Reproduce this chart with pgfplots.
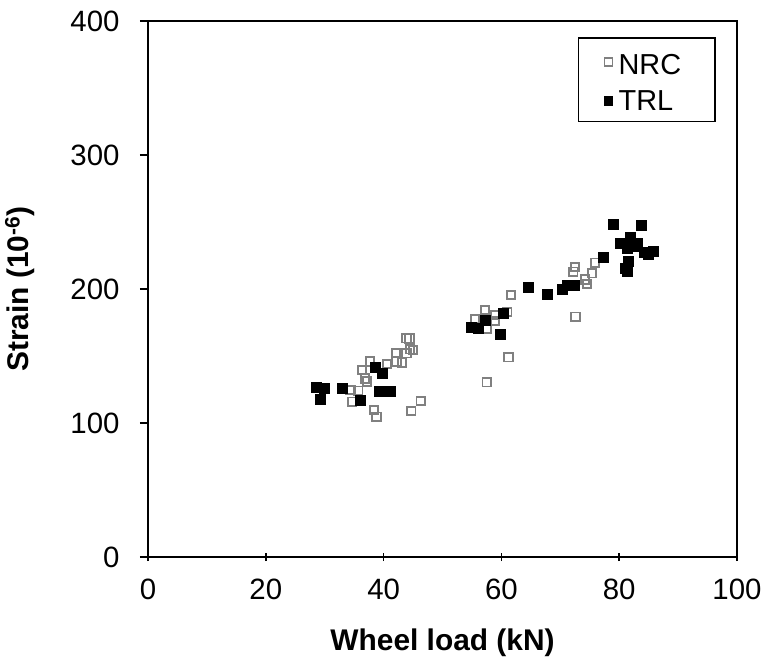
\documentclass[border=0pt]{standalone}
\usepackage{pgfplots}
\pgfplotsset{compat=1.18}
\usepackage{fontspec}
\setmainfont{Liberation Sans}
\definecolor{nrcgray}{RGB}{128,128,128}
\begin{document}
\begin{tikzpicture}
\path[use as bounding box] (-148bp,-107bp) rectangle (615bp,557bp);
\begin{axis}[
  at={(0,0)}, anchor=south west,
  scale only axis, width=589bp, height=536bp,
  xmin=0, xmax=100, ymin=0, ymax=400,
  xtick={0,20,...,100}, ytick={0,100,...,400},
  /pgf/number format/assume math mode=true,
  axis line style={line width=1.6bp},
  every tick/.style={black, line width=1.6bp},
  major tick length=8bp,
  xtick align=center, ytick align=outside,
  xtick pos=bottom, ytick pos=left,
  tick label style={font=\fontsize{29.5}{32}\selectfont},
  xticklabel style={yshift=-14bp},
  yticklabel style={xshift=-17bp},
  xlabel={\textbf{Wheel load (kN)}},
  ylabel={\textbf{Strain (10\textsuperscript{-6})}},
  label style={font=\fontsize{30}{34}\selectfont},
  xlabel style={at={(axis description cs:0.5,0)}, anchor=center, yshift=-86bp},
  ylabel style={at={(axis description cs:0,0.5)}, anchor=center, yshift=128bp},
  legend style={at={(1,1)}, anchor=north east, xshift=-21bp, yshift=-16bp,
     draw=black, line width=1.6bp, font=\fontsize{29}{34}\selectfont,
     inner xsep=26bp, inner ysep=8bp, row sep=10bp},
  legend cell align=left,
  legend image post style={mark size=4bp, line width=1.4bp},
]
\addplot[only marks, mark=square, mark size=4.2bp, draw=nrcgray, line width=1.9bp] coordinates {
(34.4,124.6) (34.6,115.9) (35.7,124.1) (36.3,139.6) (36.8,133.3) (37.2,131)
(37.7,145.8) (38.4,109.7) (38.8,104.7) (40.6,144) (42.1,152) (42.2,145.8)
(43.1,145) (43.9,163.2) (44.4,163) (44.5,155) (45.0,154.5) (43.9,152)
(44.7,109) (46.3,116.4) (55.5,177.6) (57.2,184.3) (57.5,170.6) (58.9,180.6)
(58.9,176) (61.0,183) (61.6,195.5) (61.2,149) (57.5,130.4) (72.2,212.9)
(72.5,216.6) (72.6,179.3) (74.2,207.2) (74.5,203.7) (75.4,211.7) (75.9,219.6)
};
\addlegendentry{\hspace*{4bp}\rule{0pt}{27bp}NRC\hspace*{6bp}}
\addplot[only marks, mark=square*, mark size=5bp, draw=black, fill=black] coordinates {
(28.5,127) (29.3,117.5) (29.9,126) (32.9,126) (36.1,116.7) (38.5,141.6)
(39.7,137) (39.3,124.1) (41.1,123.4) (54.8,171.4) (56.1,170.6) (57.2,176.9)
(59.8,166.4) (60.3,181.8) (64.6,201.3) (67.7,196) (70.4,199.8) (71.1,203)
(72.3,203) (77.3,223.7) (79.0,248.5) (83.7,247.8) (81.8,238.6) (80.1,234.1)
(81.3,230.4) (83.0,234.1) (82.3,232) (81.6,221.1) (81.1,215.4) (81.4,213.5)
(84.2,227.3) (85.8,227.9) (85.0,225.6)
};
\addlegendentry{\hspace*{4bp}TRL}
\draw[line width=1.6bp] (rel axis cs:0,1) -- (rel axis cs:1,1) -- (rel axis cs:1,0);
\end{axis}
\end{tikzpicture}
\end{document}
